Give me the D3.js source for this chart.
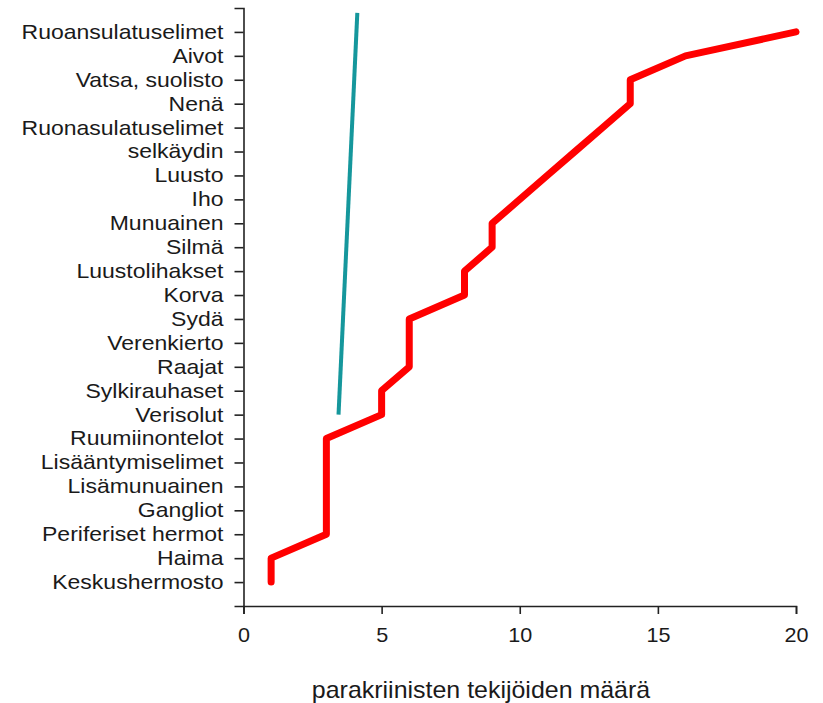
<!DOCTYPE html>
<html>
<head>
<meta charset="utf-8">
<script src="https://cdn.jsdelivr.net/npm/d3@7"></script>
<style>
  body { margin: 0; background: #fff; }
  text { font-family: "Liberation Sans", Arial, sans-serif; fill: #1a1a1a; }
</style>
</head>
<body>
<script>
var w = 823;
var h = 703;

// bottom to top
var categories = ["Keskushermosto", "Haima", "Periferiset hermot", "Gangliot",
  "Lisämunuainen", "Lisääntymiselimet", "Ruumiinontelot", "Verisolut",
  "Sylkirauhaset", "Raajat", "Verenkierto", "Sydä", "Korva", "Luustolihakset",
  "Silmä", "Munuainen", "Iho", "Luusto", "selkäydin", "Ruonasulatuselimet",
  "Nenä", "Vatsa, suolisto", "Aivot", "Ruoansulatuselimet"];
var counts = [1, 1, 3, 3, 3, 3, 3, 5, 5, 6, 6, 6, 8, 8, 9, 9, 10, 11, 12, 13, 14, 14, 16, 20];

// teal line: [x value, category index]
var trendX = [3.44, 4.12];
var trendY = [7, 23.8];

var xTicks = [0, 5, 10, 15, 20];
var xTitle = "parakriinisten tekijöiden määrä";

var svg = d3.select("body").append("svg")
  .attr("width", w).attr("height", h);

var x = d3.scaleLinear().domain([0, 20]).range([243.5, 796]);
var y = d3.scaleLinear().domain([-1, categories.length]).range([606, 8]);

var xAxis = d3.axisBottom(x).tickValues(xTicks).tickSizeOuter(0).tickSize(8).tickPadding(14);
var yAxis = d3.axisLeft(y).tickValues(d3.range(categories.length))
  .tickFormat(function(i){ return categories[i]; })
  .tickSizeOuter(0).tickSize(9).tickPadding(11);

var gx = svg.append("g").attr("transform", "translate(0,606)").call(xAxis);
var gy = svg.append("g").attr("transform", "translate(243.5,0)").call(yAxis);

[gx, gy].forEach(function(g){
  g.select(".domain").attr("stroke", "#222").attr("stroke-width", 1.6);
  g.selectAll(".tick line").attr("stroke", "#222").attr("stroke-width", 1.6);
  g.selectAll(".tick text").attr("font-size", 20)
    .attr("font-family", "'Liberation Sans', Arial, sans-serif").attr("fill", "#1a1a1a");
});
gx.selectAll(".tick text").attr("dy", "0.71em")
  .attr("transform", "scale(1.08,1)");
// labels in the picture are a bit wide
var sx = 1.15;
gy.selectAll(".tick text")
  .attr("x", -20 / sx)
  .attr("transform", "scale(" + sx + ",1)");

svg.append("text")
  .attr("transform", "translate(481,698) scale(1.04,1)")
  .attr("text-anchor", "middle")
  .attr("font-size", 24)
  .text(xTitle);

var line = d3.line()
  .x(function(d){ return x(d); })
  .y(function(d, i){ return y(i); });

svg.append("path")
  .datum(counts)
  .attr("d", line)
  .attr("fill", "none")
  .attr("stroke", "#ff0000")
  .attr("stroke-width", 7)
  .attr("stroke-linejoin", "round")
  .attr("stroke-linecap", "round");

svg.append("line")
  .attr("x1", x(trendX[0])).attr("y1", y(trendY[0]))
  .attr("x2", x(trendX[1])).attr("y2", y(trendY[1]))
  .attr("stroke", "#15979c")
  .attr("stroke-width", 4);
</script>
</body>
</html>
